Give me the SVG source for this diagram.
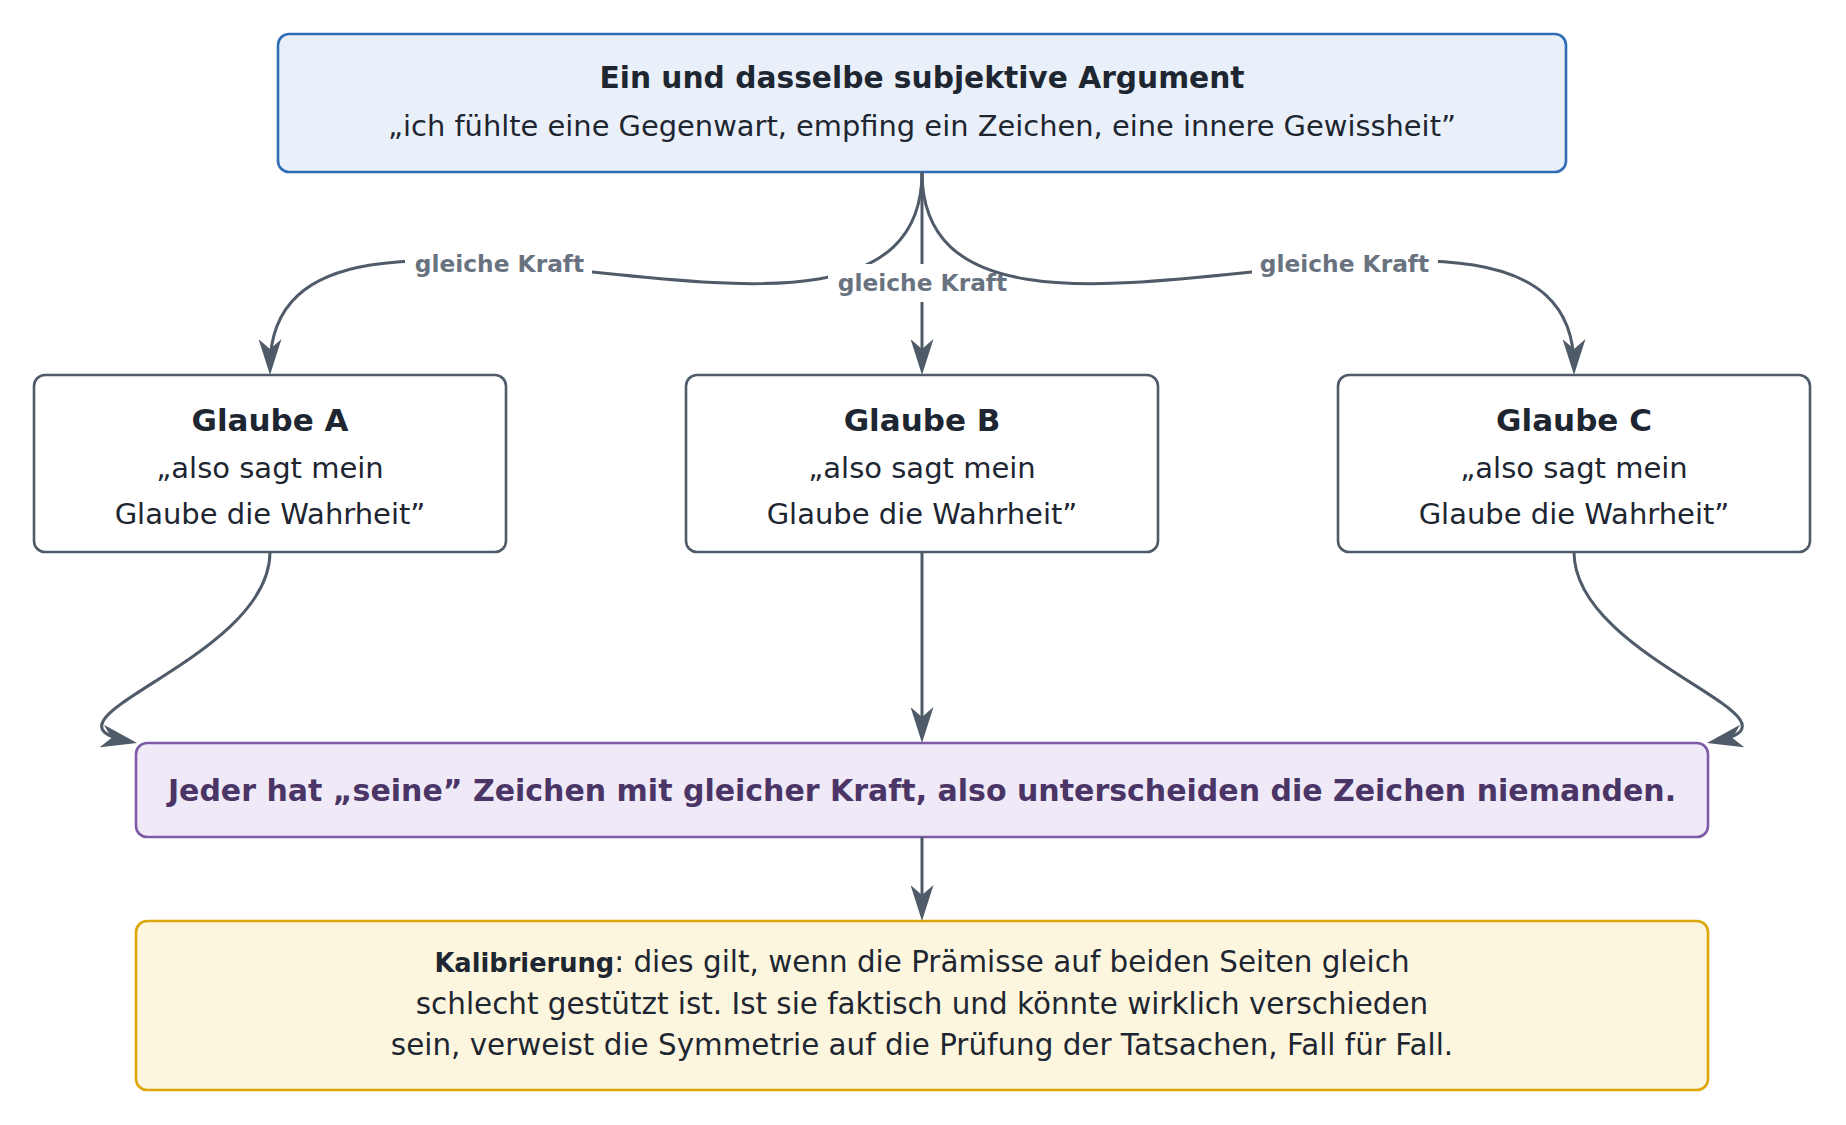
<svg xmlns="http://www.w3.org/2000/svg" width="1846" height="1125" viewBox="0 0 1846 1125">
  <defs>
    <marker id="arr" viewBox="0 0 36 23" markerWidth="36" markerHeight="23" refX="28" refY="11.5" orient="auto" markerUnits="userSpaceOnUse">
      <path d="M36,11.5 L0,0 L10,11.5 L0,23 Z" fill="#4f5b68"/>
    </marker>
  </defs>
  <style>
    .box { stroke-width: 2.6; }
    .bold { font-family: "DejaVu Sans", sans-serif; font-weight: bold; }
    .reg { font-family: "DejaVu Sans", sans-serif; font-weight: normal; }
    .dark { fill: #1e2631; }
    .edge { fill: none; stroke: #4f5b68; stroke-width: 3; marker-end: url(#arr); }
    .lblbg { fill: #ffffff; }
    .lbl { font-family: "DejaVu Sans", sans-serif; font-weight: bold; font-size: 23.3px; fill: #69737f; text-anchor: middle; }
  </style>
  <rect width="1846" height="1125" fill="#ffffff"/>

  <g id="node-argument">
    <rect class="box" x="278" y="34" width="1288" height="138" rx="11" fill="#e9f0fa" stroke="#2f6eb5"/>
    <text class="bold dark" x="922" y="88" font-size="29.7" text-anchor="middle">Ein und dasselbe subjektive Argument</text>
    <text class="reg dark" x="922" y="136" font-size="28.9" text-anchor="middle">„ich fühlte eine Gegenwart, empfing ein Zeichen, eine innere Gewissheit”</text>
  </g>

  <g id="node-glaube-a">
    <rect class="box" x="34" y="375" width="472" height="177" rx="11" fill="#ffffff" stroke="#4f5b68"/>
    <text class="bold dark" x="270" y="431" font-size="31" text-anchor="middle">Glaube A</text>
    <text class="reg dark" x="270" y="478" font-size="29" text-anchor="middle">„also sagt mein</text>
    <text class="reg dark" x="270" y="524" font-size="29" text-anchor="middle">Glaube die Wahrheit”</text>
  </g>

  <g id="node-glaube-b">
    <rect class="box" x="686" y="375" width="472" height="177" rx="11" fill="#ffffff" stroke="#4f5b68"/>
    <text class="bold dark" x="922" y="431" font-size="31" text-anchor="middle">Glaube B</text>
    <text class="reg dark" x="922" y="478" font-size="29" text-anchor="middle">„also sagt mein</text>
    <text class="reg dark" x="922" y="524" font-size="29" text-anchor="middle">Glaube die Wahrheit”</text>
  </g>

  <g id="node-glaube-c">
    <rect class="box" x="1338" y="375" width="472" height="177" rx="11" fill="#ffffff" stroke="#4f5b68"/>
    <text class="bold dark" x="1574" y="431" font-size="31" text-anchor="middle">Glaube C</text>
    <text class="reg dark" x="1574" y="478" font-size="29" text-anchor="middle">„also sagt mein</text>
    <text class="reg dark" x="1574" y="524" font-size="29" text-anchor="middle">Glaube die Wahrheit”</text>
  </g>

  <g id="node-conclusion">
    <rect class="box" x="136" y="743" width="1572" height="94" rx="11" fill="#f0eaf8" stroke="#7d5ba6"/>
    <text class="bold" x="922" y="801" font-size="30" fill="#4a3566" text-anchor="middle">Jeder hat „seine” Zeichen mit gleicher Kraft, also unterscheiden die Zeichen niemanden.</text>
  </g>

  <g id="node-calibration">
    <rect class="box" x="136" y="921" width="1572" height="169" rx="11" fill="#fdf6df" stroke="#dda70a"/>
    <text class="reg dark" x="922" y="972" font-size="29.4" text-anchor="middle"><tspan class="bold" font-size="25.7">Kalibrierung</tspan>: dies gilt, wenn die Prämisse auf beiden Seiten gleich</text>
    <text class="reg dark" x="922" y="1014" font-size="29.4" text-anchor="middle">schlecht gestützt ist. Ist sie faktisch und könnte wirklich verschieden</text>
    <text class="reg dark" x="922" y="1055" font-size="29.4" text-anchor="middle">sein, verweist die Symmetrie auf die Prüfung der Tatsachen, Fall für Fall.</text>
  </g>

  <g id="connectors">
    <path class="edge" d="M922,172 C922,439 270,108 270,367"/>
    <rect class="lblbg" x="405" y="245" width="187" height="38"/>
    <text class="lbl" x="499.5" y="272">gleiche Kraft</text>

    <path class="edge" d="M922,172 L922,367"/>
    <rect class="lblbg" x="828" y="264" width="189" height="38"/>
    <text class="lbl" x="922.5" y="291">gleiche Kraft</text>

    <path class="edge" d="M922,172 C922,439 1574,108 1574,367"/>
    <rect class="lblbg" x="1252" y="245" width="186" height="38"/>
    <text class="lbl" x="1344.5" y="272">gleiche Kraft</text>

    <path class="edge" d="M270,552 C270,660 20,720 129.2,741.5"/>
    <path class="edge" d="M922,552 L922,735"/>
    <path class="edge" d="M1574,552 C1574,660 1824,720 1714.8,741.5"/>
    <path class="edge" d="M922,837 L922,913"/>
  </g>
</svg>
